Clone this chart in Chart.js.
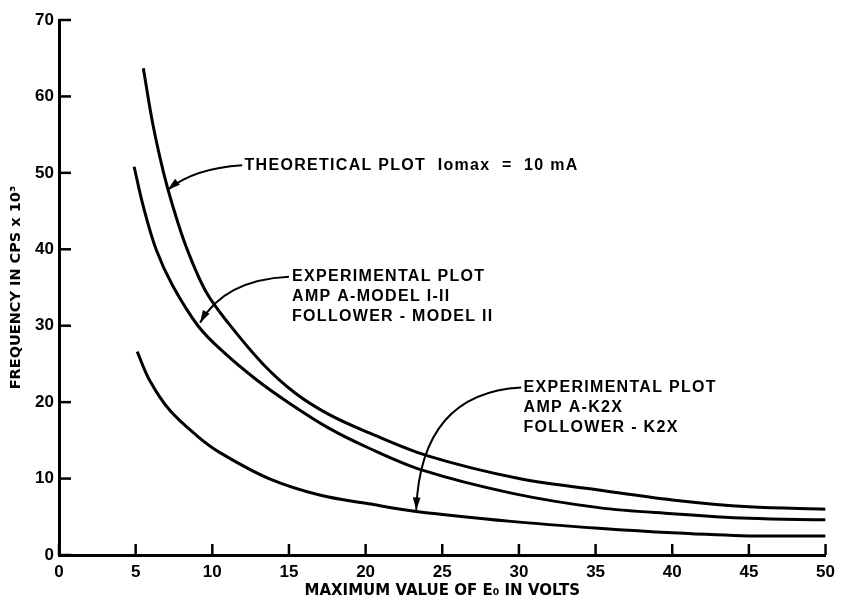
<!DOCTYPE html>
<html>
<head>
<meta charset="utf-8">
<script src="https://cdn.jsdelivr.net/npm/chart.js@4"></script>
<style>
  html, body { margin: 0; padding: 0; background: #fff; }
  #wrap { width: 842px; height: 608px; }
</style>
</head>
<body>
<div id="wrap"><canvas id="myChart" width="842" height="608"></canvas></div>
<script>
const chart = document.getElementById("myChart");

// theoretical plot, Iomax = 10 mA
const theoX = [5.5, 6.1, 6.8, 7.4, 8.3, 9.6, 11.1, 13.3, 15.4, 17.6, 20.2, 24.0, 30.0, 35.2, 40, 45, 50];
const theoY = [63.7, 56.6, 50.2, 45.8, 40.3, 34.4, 30.2, 25.0, 21.2, 18.4, 16.0, 13.0, 10.0, 8.5, 7.2, 6.3, 6.0];

// experimental, amp A model I-II / follower model II
const modelX = [4.9, 5.5, 6.35, 7.4, 9.1, 10.7, 12.9, 15.0, 17.6, 20.2, 23.7, 29.5, 35.2, 40, 45, 50];
const modelY = [50.8, 45.6, 39.9, 35.3, 29.9, 26.6, 22.9, 19.9, 16.6, 14.0, 11.1, 8.1, 6.2, 5.4, 4.8, 4.6];

// experimental, amp A K2X / follower K2X
const k2xX = [5.1, 5.9, 7.2, 9.0, 10.5, 13.7, 17.0, 20.2, 23.3, 29.5, 35.2, 40, 45, 50];
const k2xY = [26.6, 22.9, 19.0, 15.6, 13.4, 10.0, 7.85, 6.7, 5.7, 4.4, 3.5, 2.9, 2.5, 2.5];

const xTicks = [0, 5, 10, 15, 20, 25, 30, 35, 40, 45, 50];
const yTicks = [0, 10, 20, 30, 40, 50, 60, 70];

const toPts = (xs, ys) => xs.map((x, i) => ({ x: x, y: ys[i] }));

// labels and arrows, anchored in data units
const notes = [
  { lines: ["THEORETICAL PLOT  Iomax  =  10 mA"], at: [12.1, 51.0],
    from: [11.95, 51.0], ctrl: [8.8, 50.6], to: [7.1, 47.8] },
  { lines: ["EXPERIMENTAL PLOT", "AMP A-MODEL I-II", "FOLLOWER - MODEL II"], at: [15.2, 36.4],
    from: [15.0, 36.4], ctrl: [10.8, 36.0], to: [9.2, 30.4] },
  { lines: ["EXPERIMENTAL PLOT", "AMP A-K2X", "FOLLOWER - K2X"], at: [30.3, 21.9],
    from: [30.15, 21.9], ctrl: [23.6, 21.2], to: [23.3, 5.9] },
];

const inwardTicks = {
  id: "inwardTicks",
  afterDatasetsDraw(c) {
    const ctx = c.ctx, xs = c.scales.x, ys = c.scales.y;
    ctx.save();
    ctx.strokeStyle = "#000";
    ctx.lineWidth = 2.5;
    xTicks.forEach(v => {
      const px = xs.getPixelForValue(v);
      ctx.beginPath();
      ctx.moveTo(px, xs.top);
      ctx.lineTo(px, xs.top - 11);
      ctx.stroke();
    });
    yTicks.forEach(v => {
      const py = ys.getPixelForValue(v);
      ctx.beginPath();
      ctx.moveTo(ys.right, py);
      ctx.lineTo(ys.right + 12, py);
      ctx.stroke();
    });
    ctx.restore();
  },
};

const notesPlugin = {
  id: "notes",
  afterDatasetsDraw(c) {
    const ctx = c.ctx, xs = c.scales.x, ys = c.scales.y;
    const P = p => [xs.getPixelForValue(p[0]), ys.getPixelForValue(p[1])];
    ctx.save();
    ctx.fillStyle = "#000";
    ctx.strokeStyle = "#000";
    ctx.font = "bold 16px 'Liberation Sans'";
    ctx.letterSpacing = "1.3px";
    ctx.textBaseline = "middle";
    notes.forEach(n => {
      const [tx, ty] = P(n.at);
      n.lines.forEach((s, i) => ctx.fillText(s, tx, ty + i * 20));
      const a = P(n.from), b = P(n.ctrl), t = P(n.to);
      ctx.lineWidth = 2;
      ctx.beginPath();
      ctx.moveTo(a[0], a[1]);
      ctx.quadraticCurveTo(b[0], b[1], t[0], t[1]);
      ctx.stroke();
      const ang = Math.atan2(t[1] - b[1], t[0] - b[0]);
      ctx.beginPath();
      ctx.moveTo(t[0], t[1]);
      ctx.lineTo(t[0] - 13 * Math.cos(ang - 0.3), t[1] - 13 * Math.sin(ang - 0.3));
      ctx.lineTo(t[0] - 13 * Math.cos(ang + 0.3), t[1] - 13 * Math.sin(ang + 0.3));
      ctx.closePath();
      ctx.fill();
    });
    ctx.restore();
  },
};

const lineStyle = {
  showLine: true,
  borderColor: "#000",
  borderWidth: 3,
  pointRadius: 0,
  tension: 0.35,
  fill: false,
};

const tickFont = { family: "'Liberation Sans'", size: 17, weight: "bold" };

const config01 = {
  type: "scatter",
  data: {
    datasets: [
      { label: "Theoretical", data: toPts(theoX, theoY), ...lineStyle },
      { label: "Model I-II", data: toPts(modelX, modelY), ...lineStyle },
      { label: "K2X", data: toPts(k2xX, k2xY), ...lineStyle },
    ],
  },
  options: {
    responsive: false,
    animation: false,
    layout: { padding: { left: 0, right: 14, top: 20, bottom: 0 } },
    plugins: {
      legend: { display: false },
      tooltip: { enabled: false },
    },
    scales: {
      x: {
        type: "linear",
        min: 0,
        max: 50,
        afterFit: s => { s.height = 53; },
        afterBuildTicks: s => { s.ticks = xTicks.map(v => ({ value: v })); },
        grid: { display: false, drawTicks: false },
        border: { display: true, color: "#000", width: 3 },
        ticks: { color: "#000", font: tickFont, padding: 7, maxRotation: 0 },
        title: {
          display: true,
          text: "MAXIMUM VALUE OF E\u2080 IN VOLTS",
          color: "#000",
          font: { family: "'DejaVu Sans'", size: 15, weight: "bold" },
          padding: { top: 0, bottom: 8 },
        },
      },
      y: {
        type: "linear",
        min: 0,
        max: 70,
        afterFit: s => { s.width = 59; },
        afterBuildTicks: s => { s.ticks = yTicks.map(v => ({ value: v })); },
        grid: { display: false, drawTicks: false },
        border: { display: true, color: "#000", width: 3 },
        ticks: { color: "#000", font: tickFont, padding: 5 },
        title: {
          display: true,
          text: "FREQUENCY IN CPS x 10\u00b3",
          color: "#000",
          font: { family: "'DejaVu Sans'", size: 14.5, weight: "bold" },
          padding: { top: 8, bottom: 0 },
        },
      },
    },
  },
  plugins: [inwardTicks, notesPlugin],
};

const chart01 = new Chart(chart, config01);
</script>
</body>
</html>
